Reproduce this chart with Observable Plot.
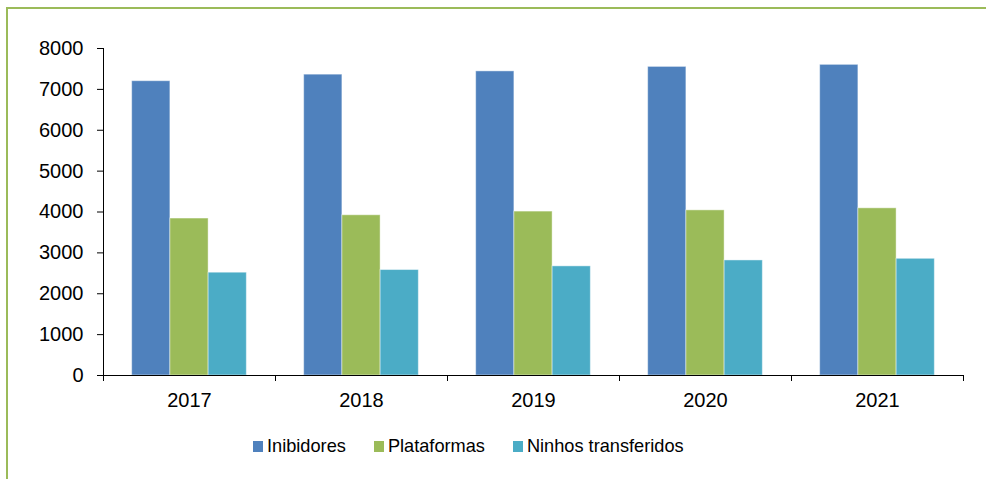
<!DOCTYPE html>
<html><head><meta charset="utf-8">
<script src="https://cdn.jsdelivr.net/npm/d3@7"></script>
<script src="https://cdn.jsdelivr.net/npm/@observablehq/plot@0.6"></script>
<style>
body{margin:0;background:#fff;font-family:"Liberation Sans",Arial,sans-serif;}
#wrap{position:relative;width:986px;height:479px;overflow:hidden;background:#fff;}
#border{position:absolute;left:6px;top:7px;width:1000px;height:500px;border-top:2px solid #9BBB59;border-left:2px solid #9BBB59;box-sizing:border-box;}
#chart{position:absolute;left:0;top:0;}
#legend{position:absolute;top:436px;left:253px;display:flex;align-items:center;gap:28px;font-size:18.2px;color:#000;white-space:nowrap;}
#legend .it{display:flex;align-items:center;}
#legend .sw{width:10px;height:11px;margin-right:4px;display:inline-block;}
</style></head>
<body>
<div id="wrap"><div id="border"></div><div id="chart"></div><div id="legend"></div></div>
<script>
const years = [2017, 2018, 2019, 2020, 2021];
const seriesNames = ["Inibidores", "Plataformas", "Ninhos transferidos"];
const inibidores = [7200, 7360, 7440, 7550, 7600];
const plataformas = [3840, 3920, 4010, 4040, 4090];
const ninhos = [2515, 2580, 2670, 2815, 2855];
const colors = ["#4F81BD", "#9BBB59", "#4BACC6"];
const yTicks = [0, 1000, 2000, 3000, 4000, 5000, 6000, 7000, 8000];

const seriesValues = [inibidores, plataformas, ninhos];
const data = [];
years.forEach((yr, i) => {
  seriesNames.forEach((s, k) => {
    // Excel-style clustered layout: gap width 150% of bar width
    data.push({i, k, s, v: seriesValues[k][i],
      x1: i + (0.75 + k) / 4.5, x2: i + (1.75 + k) / 4.5});
  });
});

const chart = Plot.plot({
  width: 986, height: 420,
  marginLeft: 103, marginRight: 23, marginTop: 48, marginBottom: 45,
  style: {fontFamily: '"Liberation Sans", Arial, sans-serif', fontSize: "20px", color: "#000", background: "transparent"},
  x: {domain: [0, years.length]},
  y: {domain: [0, 8000]},
  color: {domain: seriesNames, range: colors},
  marks: [
    Plot.rectY(data, {x1: "x1", x2: "x2", y1: 0, y2: "v", fill: "s", stroke: "#ffffff", strokeOpacity: 0.45, strokeWidth: 1}),
    Plot.ruleX([0], {stroke: "#000", strokeWidth: 1}),
    Plot.ruleY([0], {stroke: "#000", strokeWidth: 1}),
    Plot.axisY({ticks: yTicks, tickSize: 6, tickPadding: 14, tickFormat: d => String(d), label: null, stroke: "#000", strokeOpacity: 1}),
    Plot.axisX({ticks: d3.range(years.length + 1), tickSize: 6, tickFormat: () => "", label: null, stroke: "#000", strokeOpacity: 1}),
    Plot.axisX({ticks: years.map((y, i) => i + 0.5), tickSize: 0, tickPadding: 17, tickFormat: d => String(years[Math.floor(d)]), label: null})
  ]
});
document.getElementById("chart").appendChild(chart);

const leg = document.getElementById("legend");
seriesNames.forEach((s, k) => {
  const it = document.createElement("div");
  it.className = "it";
  const sw = document.createElement("span");
  sw.className = "sw";
  sw.style.background = colors[k];
  it.appendChild(sw);
  it.appendChild(document.createTextNode(s));
  leg.appendChild(it);
});
</script>
</body></html>
